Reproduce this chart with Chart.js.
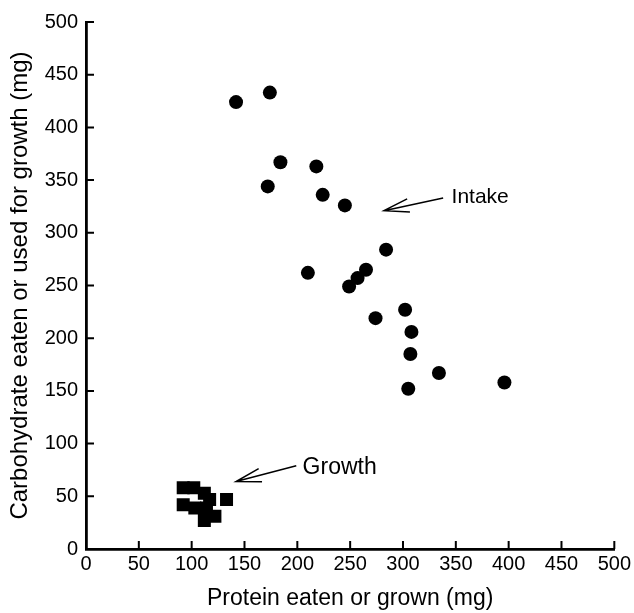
<!DOCTYPE html>
<html>
<head>
<meta charset="utf-8">
<script src="https://cdn.jsdelivr.net/npm/chart.js@4.4.0/dist/chart.umd.min.js"></script>
<style>
  html, body { margin: 0; padding: 0; background: #fff; }
</style>
</head>
<body>
<canvas id="myChart" width="634" height="613"></canvas>
<script>
// intake: protein eaten vs carbohydrate eaten (mg)
const intakeProtein = [142, 174, 184, 218, 172, 224, 245, 284, 210, 265, 257, 249, 302, 274, 308, 307, 334, 305, 396]
const intakeCarb    = [424, 433, 367, 363, 344, 336, 326, 284, 262, 265, 257, 249, 227, 219, 206, 185, 167, 152, 158]
// growth: protein grown vs carbohydrate used for growth (mg)
const growthProtein = [92, 102, 112, 117, 133, 92, 103, 114, 122, 112]
const growthCarb    = [58, 58, 53, 47, 47, 42, 39, 39, 31, 27]
const tickValues = [0, 50, 100, 150, 200, 250, 300, 350, 400, 450, 500]

// arrow labels, in data units
const noteLabels = ['Intake', 'Growth']
const noteSizes  = [21, 23]
const noteTips   = [[282, 321], [142, 64]]
const noteTails  = [[338, 333], [199, 79]]
const noteTextAt = [[346, 334], [205, 77]]

const FONT = 'Liberation Sans, Arial, Helvetica, sans-serif'

function toPoints(xs, ys) {
    return xs.map((v, i) => ({x: v, y: ys[i]}))
}

// tick marks drawn inside the plot, like the original
const innerTicks = {
    id: 'innerTicks',
    afterDraw(chart) {
        const {ctx, chartArea, scales: {x, y}} = chart
        ctx.save()
        ctx.strokeStyle = '#000'
        ctx.lineWidth = 2
        tickValues.forEach(v => {
            const px = x.getPixelForValue(v)
            const py = y.getPixelForValue(v)
            ctx.beginPath()
            ctx.moveTo(px, chartArea.bottom)
            ctx.lineTo(px, chartArea.bottom - 8)
            ctx.moveTo(chartArea.left, py)
            ctx.lineTo(chartArea.left + 8, py)
            ctx.stroke()
        })
        ctx.restore()
    }
}

const arrowNotes = {
    id: 'arrowNotes',
    afterDraw(chart) {
        const {ctx, scales: {x, y}} = chart
        ctx.save()
        ctx.strokeStyle = '#000'
        ctx.fillStyle = '#000'
        ctx.lineWidth = 1.5
        ctx.textBaseline = 'middle'
        noteLabels.forEach((txt, i) => {
            const tx = x.getPixelForValue(noteTips[i][0]), ty = y.getPixelForValue(noteTips[i][1])
            const bx = x.getPixelForValue(noteTails[i][0]), by = y.getPixelForValue(noteTails[i][1])
            const ang = Math.atan2(by - ty, bx - tx)
            const len = 26, spread = 0.26
            ctx.beginPath()
            ctx.moveTo(bx, by)
            ctx.lineTo(tx, ty)
            ctx.moveTo(tx + len * Math.cos(ang - spread), ty + len * Math.sin(ang - spread))
            ctx.lineTo(tx, ty)
            ctx.lineTo(tx + len * Math.cos(ang + spread), ty + len * Math.sin(ang + spread))
            ctx.stroke()
            ctx.font = noteSizes[i] + 'px ' + FONT
            ctx.fillText(txt, x.getPixelForValue(noteTextAt[i][0]), y.getPixelForValue(noteTextAt[i][1]))
        })
        ctx.restore()
    }
}

const axisCommon = {
    type: 'linear',
    min: 0,
    max: 500,
    afterBuildTicks: s => { s.ticks = tickValues.map(v => ({value: v})) },
    grid: {display: false, drawTicks: false},
    border: {display: true, color: '#000', width: 2.8},
}

const ctx = document.getElementById('myChart').getContext('2d')
new Chart(ctx, {
    type: 'scatter',
    data: {
        datasets: [{
            label: 'Intake',
            data: toPoints(intakeProtein, intakeCarb),
            pointStyle: 'circle',
            pointRadius: 7,
            borderWidth: 0,
            backgroundColor: '#000'
        }, {
            label: 'Growth',
            data: toPoints(growthProtein, growthCarb),
            pointStyle: 'rect',
            pointRadius: 9.2,
            borderWidth: 0,
            backgroundColor: '#000'
        }]
    },
    options: {
        responsive: false,
        animation: false,
        layout: {padding: {left: 0, right: 19, top: 22, bottom: 0}},
        plugins: {legend: {display: false}, tooltip: {enabled: false}},
        scales: {
            x: {
                ...axisCommon,
                ticks: {color: '#000', font: {family: FONT, size: 20}, padding: 3, maxRotation: 0, autoSkip: false},
                title: {display: true, text: 'Protein eaten or grown (mg)', color: '#000',
                        font: {family: FONT, size: 23}, padding: {top: 0, bottom: 1}},
                afterFit: s => { s.height = 64 }
            },
            y: {
                ...axisCommon,
                ticks: {color: '#000', font: {family: FONT, size: 20}, padding: 8, autoSkip: false},
                title: {display: true, text: 'Carbohydrate eaten or used for growth (mg)', color: '#000',
                        font: {family: FONT, size: 24}, padding: {top: 6, bottom: 0}},
                afterFit: s => { s.width = 86 }
            }
        }
    },
    plugins: [innerTicks, arrowNotes]
})
</script>
</body>
</html>
